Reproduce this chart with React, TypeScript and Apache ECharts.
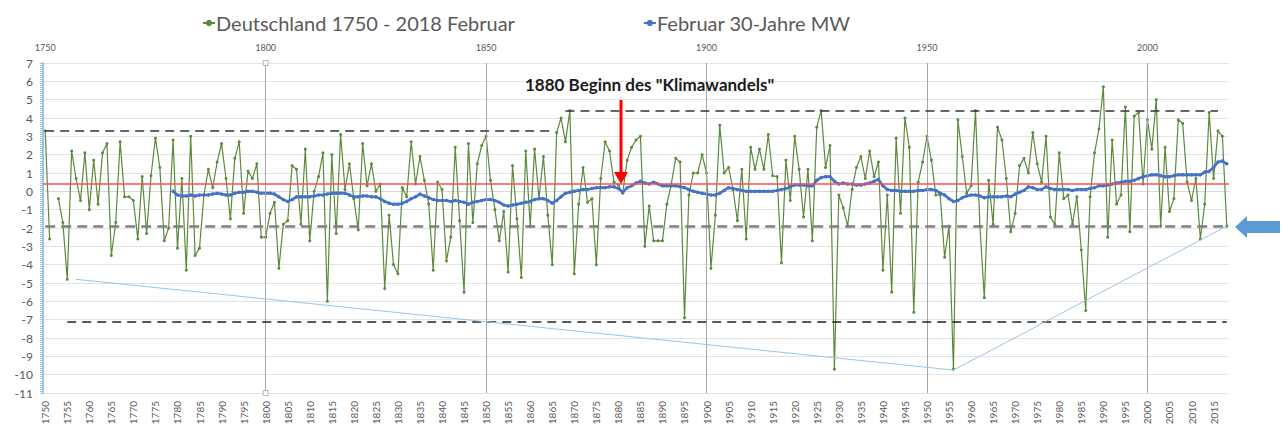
import React, { useEffect, useRef } from "react";
import * as echarts from "echarts";

const FIRST_YEAR = 1750;

// Deutschland Februar-Mitteltemperatur 1750-2018 (°C)
const februar: (number | null)[] = [
  3.3, -2.6, null, -0.4, -1.7, -4.8, 2.2, 0.7, -0.5, 2.1, // 1750-1759
  -1.0, 1.7, -0.7, 2.1, 2.6, -3.5, -1.7, 2.7, -0.3, -0.3, // 1760-1769
  -0.5, -2.6, 0.8, -2.3, 0.85, 2.9, 1.3, -2.7, -2.0, 2.8, // 1770-1779
  -3.1, 0.7, -4.3, 3.0, -3.5, -3.1, -0.2, 1.2, 0.2, 1.6, // 1780-1789
  2.6, 0.7, -1.5, 1.8, 2.7, -1.2, 1.1, 0.7, 1.5, -2.5, // 1790-1799
  -2.5, -1.2, -0.6, -4.2, -1.8, -1.6, 1.4, 1.2, -1.8, 2.3, // 1800-1809
  -2.7, 0.0, 0.8, 2.1, -6.0, 2.0, -2.3, 3.1, 0.1, 1.5, // 1810-1819
  -0.4, -2.1, 2.6, 0.3, 1.5, 0.0, 0.4, -5.3, -1.3, -4.0, // 1820-1829
  -4.5, 0.2, -0.3, 2.7, 0.4, 1.9, 0.6, -0.7, -4.3, 0.5, // 1830-1839
  0.1, -3.8, -2.5, 2.4, -1.6, -5.5, 2.6, -1.7, 1.5, 2.5, // 1840-1849
  3.0, 0.6, -1.0, -2.7, -1.1, -4.4, 1.4, -1.5, -4.7, 2.2, // 1850-1859
  -1.9, 2.3, -0.4, 1.9, -1.3, -4.0, 3.2, 4.0, 2.7, 4.4, // 1860-1869
  -4.5, -0.7, 1.3, -0.6, -0.4, -4.0, 0.7, 2.7, 2.2, 0.5, // 1870-1879
  0.35, -0.1, 1.7, 2.4, 2.8, 3.0, -3.0, -0.8, -2.7, -2.7, // 1880-1889
  -2.7, -0.7, 0.4, 1.8, 1.6, -6.9, -0.2, 1.0, 1.0, 2.0, // 1890-1899
  1.0, -4.2, -1.3, 3.6, 1.0, 1.3, 0.1, -1.6, 1.2, -2.6, // 1900-1909
  2.4, 1.2, 2.3, 1.2, 3.1, 0.85, 0.8, -3.9, 1.7, -0.5, // 1910-1919
  3.0, 1.2, -1.4, 1.2, -2.7, 3.5, 4.4, 1.3, 2.5, -9.7, // 1920-1929
  -0.2, -0.9, -1.9, 0.1, 1.3, 1.9, 0.7, 2.2, 0.8, 1.6, // 1930-1939
  -4.3, -0.2, -5.5, 2.9, -1.2, 4.0, 2.4, -6.6, 0.5, 1.6, // 1940-1949
  3.0, 1.7, -0.2, -0.2, -3.6, -1.9, -9.7, 3.9, 1.9, -0.1, // 1950-1959
  0.3, 4.4, -1.9, -5.8, 0.6, -1.8, 3.5, 2.8, 0.7, -2.2, // 1960-1969
  -1.2, 1.4, 1.8, 1.0, 3.2, 1.5, 0.5, 3.0, -1.4, -1.8, // 1970-1979
  2.1, -0.4, -0.2, -1.8, -0.3, -3.2, -6.5, -0.3, 2.1, 3.4, // 1980-1989
  5.7, -2.5, 2.8, -0.7, -0.2, 4.6, -2.2, 4.1, 4.3, 0.4, // 1990-1999
  3.9, 2.3, 5.0, -1.9, 2.4, -1.1, -0.4, 3.9, 3.7, 0.5, // 2000-2009
  -0.5, 0.7, -2.6, -0.7, 4.3, 0.7, 3.3, 3.0, -1.9, // 2010-2018
];

// Februar 30-Jahre gleitendes Mittel, 1779-2018
const MA_START = 1779;
const mittel30: number[] = [
  0.0, // 1779
  -0.2, -0.25, -0.25, -0.2, -0.25, -0.2, -0.2, -0.2, -0.15, -0.1, // 1780-1789
  -0.15, -0.2, -0.2, -0.1, -0.05, -0.05, 0.0, 0.0, -0.05, -0.1, // 1790-1799
  -0.1, -0.1, -0.15, -0.3, -0.45, -0.55, -0.45, -0.3, -0.3, -0.3, // 1800-1809
  -0.3, -0.25, -0.2, -0.2, -0.15, -0.1, -0.1, -0.1, -0.1, -0.2, // 1810-1819
  -0.3, -0.3, -0.25, -0.25, -0.3, -0.3, -0.4, -0.55, -0.65, -0.7, // 1820-1829
  -0.7, -0.65, -0.55, -0.4, -0.3, -0.15, -0.25, -0.35, -0.45, -0.5, // 1830-1839
  -0.5, -0.5, -0.55, -0.5, -0.55, -0.6, -0.7, -0.6, -0.55, -0.5, // 1840-1849
  -0.45, -0.45, -0.5, -0.6, -0.75, -0.8, -0.75, -0.7, -0.65, -0.6, // 1850-1859
  -0.55, -0.45, -0.4, -0.4, -0.5, -0.65, -0.5, -0.3, -0.1, -0.05, // 1860-1869
  0.0, 0.05, 0.1, 0.1, 0.15, 0.2, 0.2, 0.2, 0.25, 0.25, // 1870-1879
  0.15, -0.05, 0.2, 0.3, 0.45, 0.55, 0.45, 0.4, 0.5, 0.4, // 1880-1889
  0.3, 0.3, 0.3, 0.3, 0.25, 0.2, 0.1, 0.0, -0.05, -0.1, // 1890-1899
  -0.15, -0.2, -0.2, -0.1, 0.05, 0.2, 0.15, 0.1, 0.05, 0.0, // 1900-1909
  0.0, 0.0, 0.0, 0.0, 0.0, 0.0, 0.05, 0.1, 0.15, 0.25, // 1910-1919
  0.35, 0.35, 0.35, 0.3, 0.3, 0.6, 0.75, 0.8, 0.8, 0.55, // 1920-1929
  0.4, 0.45, 0.4, 0.4, 0.35, 0.35, 0.4, 0.45, 0.55, 0.65, // 1930-1939
  0.3, 0.1, 0.05, 0.05, 0.0, 0.0, 0.0, 0.0, 0.05, 0.05, // 1940-1949
  0.1, 0.1, 0.05, -0.1, -0.2, -0.4, -0.55, -0.5, -0.35, -0.25, // 1950-1959
  -0.2, -0.2, -0.25, -0.35, -0.3, -0.3, -0.3, -0.3, -0.25, -0.3, // 1960-1969
  -0.15, -0.05, 0.05, 0.25, 0.2, 0.1, 0.1, 0.25, 0.15, 0.1, // 1970-1979
  0.1, 0.1, 0.1, 0.05, 0.1, 0.1, 0.1, 0.15, 0.2, 0.3, // 1980-1989
  0.3, 0.35, 0.4, 0.45, 0.5, 0.55, 0.55, 0.6, 0.7, 0.8, // 1990-1999
  0.85, 0.9, 0.9, 0.85, 0.8, 0.8, 0.85, 0.9, 0.9, 0.9, // 2000-2009
  0.9, 0.9, 0.9, 1.05, 1.1, 1.3, 1.6, 1.65, 1.5, // 2010-2018
];

// Reference lines (year range, value)
const redLevel = 0.4;
const upperOld = { from: "1750", to: "1865", value: 3.3 };
const upperNew = { from: "1868", to: "2016", value: 4.4 };
const lowerDash = { from: "1750", to: "2018", value: -1.9 };
const coldDash = { from: "1755", to: "2018", value: -7.1 };
const trendPoints: [string, number][] = [
  ["1757", -4.8],
  ["1956", -9.75],
  ["2018", -1.9],
];
const decadeLines = ["1800", "1850", "1900", "1950", "2000"];

const years: string[] = februar.map((_, i) => String(FIRST_YEAR + i));
const maSeries: (number | null)[] = years.map((y) => {
  const idx = Number(y) - MA_START;
  return idx >= 0 ? mittel30[idx] : null;
});

const FONT = "Lato, 'Open Sans', sans-serif";
const GREY_TEXT = "#595959";

export default function App() {
  const ref = useRef<HTMLDivElement>(null);

  useEffect(() => {
    if (!ref.current) return;
    const chart = echarts.init(ref.current, undefined, { renderer: "svg" });

    const dash = (seg: { from: string; to: string; value: number }) => [
      { coord: [seg.from, seg.value] },
      { coord: [seg.to, seg.value] },
    ];

    chart.setOption({
      animation: false,
      backgroundColor: "#ffffff",
      textStyle: { fontFamily: FONT },
      legend: {
        left: 197,
        top: 8,
        itemGap: 128,
        itemWidth: 12,
        itemHeight: 8,
        textStyle: { fontSize: 20, color: GREY_TEXT, fontFamily: FONT, padding: [0, 0, 0, -4] },
        data: ["Deutschland 1750 - 2018 Februar", "Februar 30-Jahre MW"],
      },
      grid: { left: 43, right: 54, top: 63, height: 330 },
      xAxis: [
        {
          type: "category",
          data: years,
          position: "bottom",
          boundaryGap: true,
          axisLine: { show: true, lineStyle: { color: "#d9d9d9" } },
          axisTick: { show: false },
          axisLabel: {
            interval: (i: number) => i % 5 === 0,
            rotate: 90,
            fontSize: 10,
            color: GREY_TEXT,
            fontFamily: FONT,
            margin: 8,
          },
          splitLine: { show: false },
        },
        {
          type: "category",
          data: years,
          position: "top",
          boundaryGap: true,
          axisLine: { show: false },
          axisTick: { show: false },
          axisLabel: {
            interval: (i: number) => i % 50 === 0,
            fontSize: 9,
            color: GREY_TEXT,
            fontFamily: FONT,
            margin: 11,
          },
          splitLine: { show: false },
        },
      ],
      yAxis: {
        type: "value",
        min: -11,
        max: 7,
        interval: 1,
        axisLine: { show: true, lineStyle: { color: "#9dc3e6", width: 2 } },
        axisTick: { show: true, length: 3, lineStyle: { color: "#9dc3e6" } },
        minorTick: { show: true, splitNumber: 9, length: 3, lineStyle: { color: "#9dc3e6" } },
        axisLabel: { fontSize: 12, color: GREY_TEXT, fontFamily: FONT, margin: 10 },
        splitLine: { lineStyle: { color: "#e3e3e3", width: 1 } },
      },
      series: [
        {
          name: "Deutschland 1750 - 2018 Februar",
          type: "line",
          data: februar,
          connectNulls: false,
          showAllSymbol: true,
          symbol: "circle",
          symbolSize: 3,
          lineStyle: { color: "#5a8a3a", width: 1.2 },
          itemStyle: { color: "#5a8a3a" },
          z: 3,
          markLine: {
            silent: true,
            symbol: ["none", "none"],
            label: { show: false },
            data: [
              ...decadeLines.map((y) => ({
                xAxis: y,
                lineStyle: { color: "#a6a6a6", width: 1, type: "solid" },
              })),
              { yAxis: redLevel, lineStyle: { color: "#ff4f4f", width: 1.6, type: "solid" } },
              [
                { ...dash(upperOld)[0], lineStyle: { color: "#333333", width: 1.6, type: [9, 6] } },
                dash(upperOld)[1],
              ],
              [
                { ...dash(upperNew)[0], lineStyle: { color: "#333333", width: 1.6, type: [9, 6] } },
                dash(upperNew)[1],
              ],
              [
                { ...dash(lowerDash)[0], lineStyle: { color: "#7f7f7f", width: 2.6, type: [10, 6] } },
                dash(lowerDash)[1],
              ],
              [
                { ...dash(coldDash)[0], lineStyle: { color: "#222222", width: 1.6, type: [9, 6] } },
                dash(coldDash)[1],
              ],
              [
                { coord: trendPoints[0], lineStyle: { color: "#9dc3e6", width: 1, type: "solid" } },
                { coord: trendPoints[1] },
              ],
              [
                { coord: trendPoints[1], lineStyle: { color: "#9dc3e6", width: 1, type: "solid" } },
                { coord: trendPoints[2] },
              ],
            ],
          },
        },
        {
          name: "Februar 30-Jahre MW",
          type: "line",
          data: maSeries,
          connectNulls: false,
          showAllSymbol: true,
          symbol: "circle",
          symbolSize: 3.5,
          lineStyle: { color: "#4472c4", width: 2.6 },
          itemStyle: { color: "#4472c4" },
          z: 4,
        },
        {
          name: "ends",
          type: "scatter",
          data: [
            ["1800", 7],
            ["1800", -11],
          ],
          symbol: "rect",
          symbolSize: 5,
          itemStyle: { color: "#ffffff", borderColor: "#a6a6a6", borderWidth: 1 },
          silent: true,
          z: 5,
        },
      ],
      graphic: [
        {
          type: "text",
          left: 525,
          top: 76,
          style: {
            text: '1880 Beginn des "Klimawandels"',
            fontSize: 17,
            fontWeight: "bold",
            fontFamily: FONT,
            fill: "#1a1a1a",
          },
          z: 10,
        },
        {
          type: "rect",
          shape: { x: 619.5, y: 100, width: 3, height: 73 },
          style: { fill: "#ff0000" },
          z: 10,
        },
        {
          type: "polygon",
          shape: { points: [[614, 172], [628, 172], [621, 184]] },
          style: { fill: "#ff0000" },
          z: 10,
        },
        {
          type: "polygon",
          shape: {
            points: [
              [1235, 227],
              [1247, 216],
              [1247, 221],
              [1280, 221],
              [1280, 233],
              [1247, 233],
              [1247, 238],
            ],
          },
          style: { fill: "#5b9bd5" },
          z: 10,
        },
      ],
    });

    return () => chart.dispose();
  }, []);

  return (
    <div
      ref={ref}
      style={{ position: "absolute", left: 0, top: 0, width: 1283, height: 437, background: "#fff" }}
    />
  );
}
